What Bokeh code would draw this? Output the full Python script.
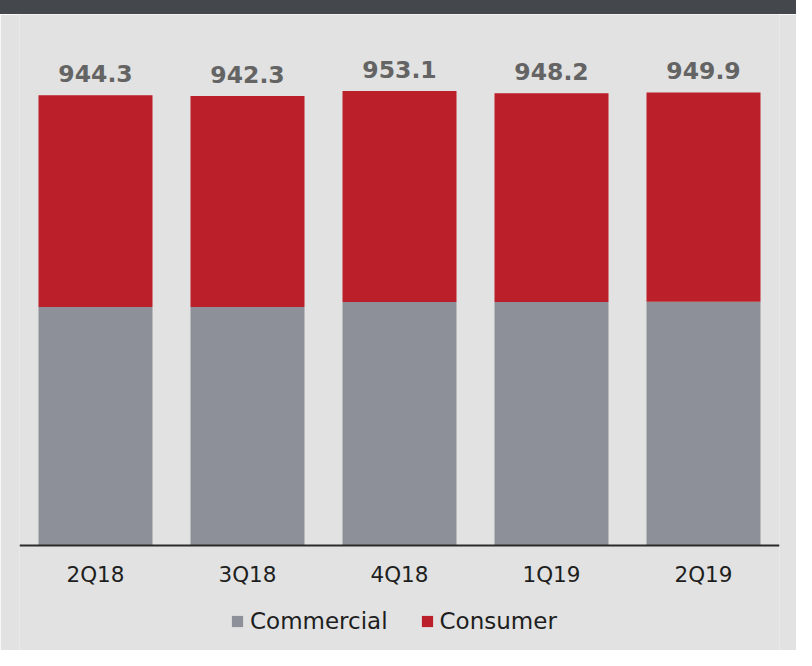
from bokeh.plotting import figure
from bokeh.models import ColumnDataSource, LabelSet, Legend, LegendItem, Div
from bokeh.layouts import column
from bokeh.core.properties import value
from bokeh.embed import file_html
from bokeh.resources import INLINE

quarters = ["2Q18", "3Q18", "4Q18", "1Q19", "2Q19"]
commercial = [499.6, 499.8, 510.2, 509.9, 510.5]
consumer = [444.7, 442.5, 442.9, 438.3, 439.4]
totals = [944.3, 942.3, 953.1, 948.2, 949.9]
total_labels = ["944.3", "942.3", "953.1", "948.2", "949.9"]

BG = "#e1e2e1"
GREY = "#8d9098"
RED = "#bb1f2a"
FONT = "DejaVu Sans"

src = ColumnDataSource(dict(q=quarters, Commercial=commercial, Consumer=consumer,
                            total=totals, lab=total_labels))

band = Div(text="", width=796, height=14, margin=0,
           styles={"background-color": "#44474c"})

p = figure(x_range=quarters, y_range=(-221.2, 1113.5), width=796, height=636,
           output_backend="svg", toolbar_location=None, margin=0,
           min_border_left=19, min_border_right=17, min_border_top=0, min_border_bottom=0)
p.background_fill_color = BG
p.border_fill_color = BG
p.outline_line_color = None
p.grid.visible = False
p.yaxis.visible = False
p.x_range.range_padding = 0

r = p.vbar_stack(["Commercial", "Consumer"], x="q", width=0.75, color=[GREY, RED],
                 line_color=None, source=src)

labels = LabelSet(x="q", y="total", text="lab", source=src, text_align="center",
                  text_baseline="alphabetic", y_offset=13, text_font=value(FONT),
                  text_font_size="23.5px", text_font_style="bold", text_color="#646464")
p.add_layout(labels)

ax = p.xaxis[0]
ax.fixed_location = 0
ax.axis_line_color = "#2a2a2a"
ax.axis_line_width = 2
ax.major_tick_line_color = None
ax.major_tick_out = 0
ax.minor_tick_line_color = None
ax.major_label_standoff = 17
ax.major_label_text_font = FONT
ax.major_label_text_font_size = "21.5px"
ax.major_label_text_color = "#1e1e1e"

legend = Legend(items=[LegendItem(label="Commercial", renderers=[r[0]]),
                       LegendItem(label="Consumer", renderers=[r[1]])],
                orientation="horizontal", location=(211, 16))
legend.background_fill_alpha = 0
legend.border_line_color = None
legend.margin = 0
legend.padding = 4
legend.spacing = 32
legend.label_standoff = 6
legend.glyph_width = 14
legend.glyph_height = 14
legend.label_text_font = FONT
legend.label_text_font_size = "23px"
legend.label_text_color = "#1e1e1e"
p.add_layout(legend)

layout = column(band, p, spacing=0, margin=0)
open("out.html", "w").write(file_html(layout, INLINE))
